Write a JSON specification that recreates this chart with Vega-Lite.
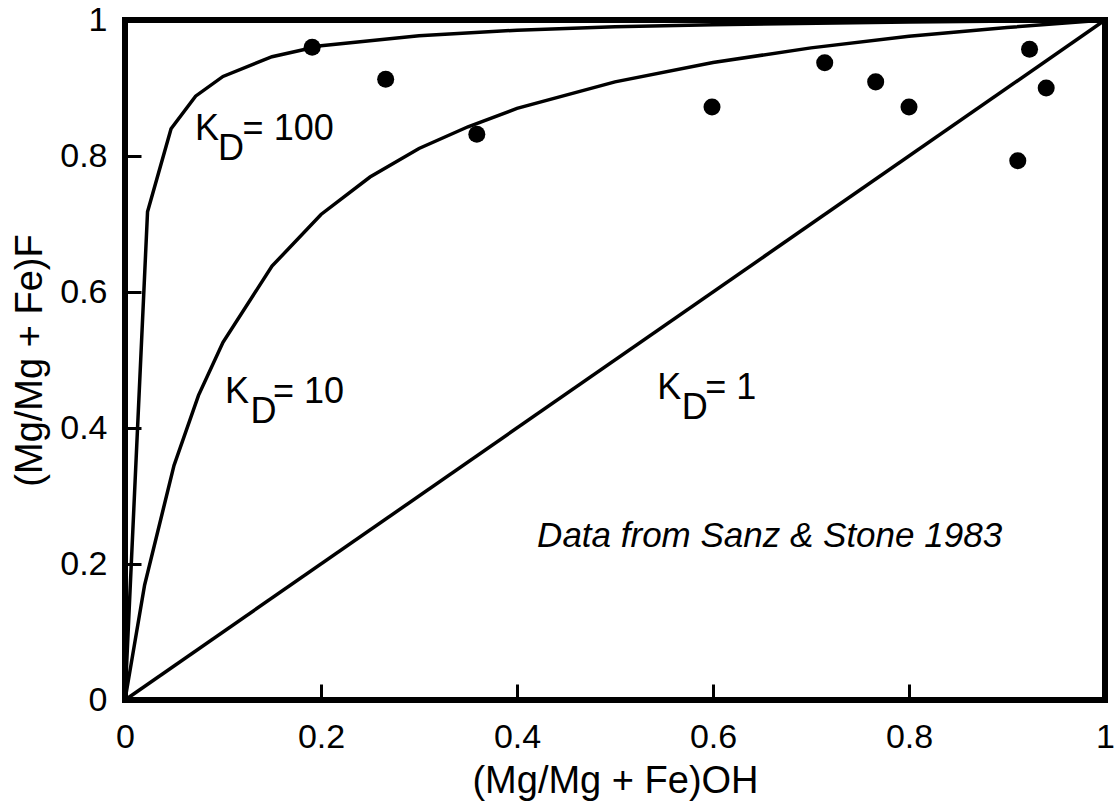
{
  "$schema": "https://vega.github.io/schema/vega-lite/v6.json",
  "width": 980,
  "height": 680,
  "autosize": {"type": "none"},
  "padding": {"left": 125, "top": 20, "right": 13, "bottom": 103},
  "background": "white",
  "config": {
    "view": {"stroke": "black", "strokeWidth": 6},
    "font": "Liberation Sans",
    "axis": {
      "domain": false,
      "grid": false,
      "tickColor": "black",
      "tickWidth": 3,
      "tickSize": -16,
      "labelFont": "Liberation Sans",
      "labelFontSize": 34,
      "labelColor": "black",
      "labelFlush": false,
      "titleFont": "Liberation Sans",
      "titleFontSize": 38,
      "titleFontWeight": "normal",
      "titleColor": "black"
    }
  },
  "datasets": {
    "curves": [
      {"kd": "1", "x": 0, "y": 0},
      {"kd": "1", "x": 1, "y": 1},
      {"kd": "10", "x": 0, "y": 0},
      {"kd": "10", "x": 0.02, "y": 0.169},
      {"kd": "10", "x": 0.05, "y": 0.345},
      {"kd": "10", "x": 0.075, "y": 0.448},
      {"kd": "10", "x": 0.1, "y": 0.526},
      {"kd": "10", "x": 0.15, "y": 0.638},
      {"kd": "10", "x": 0.2, "y": 0.714},
      {"kd": "10", "x": 0.25, "y": 0.769},
      {"kd": "10", "x": 0.3, "y": 0.811},
      {"kd": "10", "x": 0.35, "y": 0.843},
      {"kd": "10", "x": 0.4, "y": 0.87},
      {"kd": "10", "x": 0.5, "y": 0.909},
      {"kd": "10", "x": 0.6, "y": 0.9375},
      {"kd": "10", "x": 0.7, "y": 0.959},
      {"kd": "10", "x": 0.8, "y": 0.976},
      {"kd": "10", "x": 0.9, "y": 0.989},
      {"kd": "10", "x": 1, "y": 1},
      {"kd": "100", "x": 0, "y": 0},
      {"kd": "100", "x": 0.023, "y": 0.718},
      {"kd": "100", "x": 0.047, "y": 0.84},
      {"kd": "100", "x": 0.072, "y": 0.888},
      {"kd": "100", "x": 0.1, "y": 0.917},
      {"kd": "100", "x": 0.15, "y": 0.946},
      {"kd": "100", "x": 0.2, "y": 0.962},
      {"kd": "100", "x": 0.3, "y": 0.977},
      {"kd": "100", "x": 0.4, "y": 0.985},
      {"kd": "100", "x": 0.5, "y": 0.99},
      {"kd": "100", "x": 0.6, "y": 0.993},
      {"kd": "100", "x": 0.8, "y": 0.997},
      {"kd": "100", "x": 1, "y": 1}
    ],
    "points": [
      {"x": 0.191, "y": 0.96},
      {"x": 0.266, "y": 0.913},
      {"x": 0.359, "y": 0.832},
      {"x": 0.599, "y": 0.872},
      {"x": 0.714, "y": 0.937},
      {"x": 0.766, "y": 0.909},
      {"x": 0.8, "y": 0.872},
      {"x": 0.923, "y": 0.957},
      {"x": 0.94, "y": 0.9},
      {"x": 0.911, "y": 0.793}
    ],
    "labels": [
      {"x": 0.0714, "y": 0.824, "t": "K"},
      {"x": 0.095, "y": 0.794, "t": "D"},
      {"x": 0.12, "y": 0.824, "t": "= 100"},
      {"x": 0.102, "y": 0.437, "t": "K"},
      {"x": 0.128, "y": 0.407, "t": "D"},
      {"x": 0.151, "y": 0.437, "t": "= 10"},
      {"x": 0.543, "y": 0.443, "t": "K"},
      {"x": 0.568, "y": 0.413, "t": "D"},
      {"x": 0.592, "y": 0.443, "t": "= 1"}
    ],
    "note": [
      {"x": 0.895, "y": 0.225, "t": "Data from Sanz & Stone 1983"}
    ]
  },
  "layer": [
    {
      "data": {"name": "curves"},
      "mark": {"type": "line", "color": "black", "strokeWidth": 3.5},
      "encoding": {
        "x": {
          "field": "x", "type": "quantitative",
          "scale": {"domain": [0, 1], "nice": false},
          "axis": {"values": [0, 0.2, 0.4, 0.6, 0.8, 1], "format": "~g", "labelPadding": 36, "title": "(Mg/Mg + Fe)OH", "titlePadding": 8}
        },
        "y": {
          "field": "y", "type": "quantitative",
          "scale": {"domain": [0, 1], "nice": false},
          "axis": {"values": [0, 0.2, 0.4, 0.6, 0.8, 1], "format": "~g", "labelPadding": 34, "title": "(Mg/Mg + Fe)F", "titlePadding": 10}
        },
        "detail": {"field": "kd"},
        "order": {"field": "x"}
      }
    },
    {
      "data": {"name": "points"},
      "mark": {"type": "circle", "color": "black", "opacity": 1, "size": 290},
      "encoding": {
        "x": {"field": "x", "type": "quantitative"},
        "y": {"field": "y", "type": "quantitative"}
      }
    },
    {
      "data": {"name": "labels"},
      "mark": {"type": "text", "align": "left", "baseline": "alphabetic", "fontSize": 36, "color": "black", "font": "Liberation Sans"},
      "encoding": {
        "x": {"field": "x", "type": "quantitative"},
        "y": {"field": "y", "type": "quantitative"},
        "text": {"field": "t"}
      }
    },
    {
      "data": {"name": "note"},
      "mark": {"type": "text", "align": "right", "baseline": "alphabetic", "fontSize": 35, "fontStyle": "italic", "color": "black", "font": "Liberation Sans"},
      "encoding": {
        "x": {"field": "x", "type": "quantitative"},
        "y": {"field": "y", "type": "quantitative"},
        "text": {"field": "t"}
      }
    }
  ]
}
